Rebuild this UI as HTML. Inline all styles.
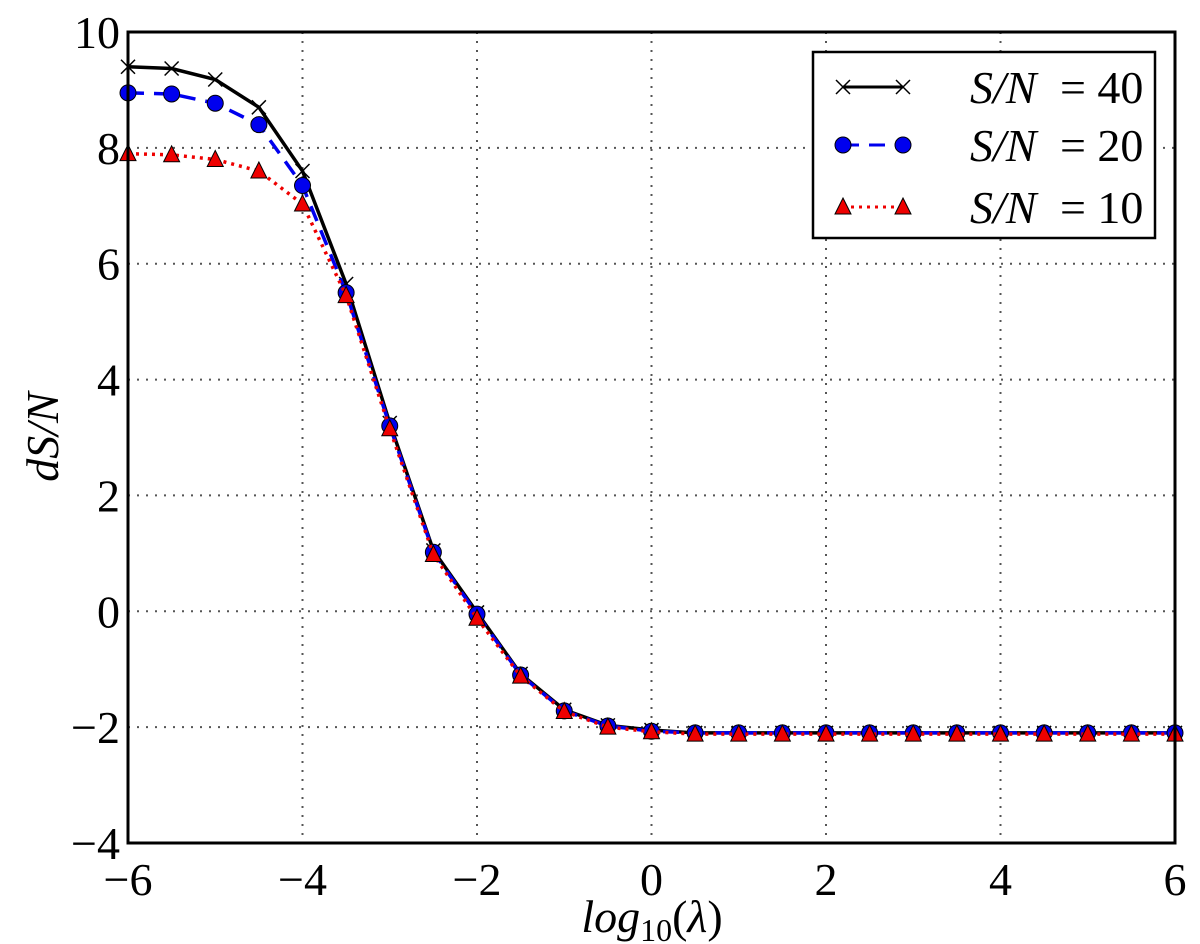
<!DOCTYPE html>
<html><head><meta charset="utf-8">
<style>
body{margin:0;background:#fff;}
svg{display:block;}
text{font-family:"Liberation Serif",serif;fill:#000;}
</style></head>
<body>
<svg id="chart" width="1200" height="944">
</svg>
<script>
const xValues=[-6,-5.5,-5,-4.5,-4,-3.5,-3,-2.5,-2,-1.5,-1,-0.5,0,0.5,1,1.5,2,2.5,3,3.5,4,4.5,5,5.5,6];
const sn40=[9.4,9.37,9.18,8.7,7.6,5.65,3.25,1.05,-0.02,-1.08,-1.7,-1.97,-2.05,-2.1,-2.1,-2.1,-2.1,-2.1,-2.1,-2.1,-2.1,-2.1,-2.1,-2.1,-2.1];
const sn20=[8.95,8.93,8.77,8.4,7.35,5.5,3.2,1.02,-0.05,-1.1,-1.72,-1.98,-2.07,-2.1,-2.1,-2.1,-2.1,-2.1,-2.1,-2.1,-2.1,-2.1,-2.1,-2.1,-2.1];
const sn10=[7.9,7.88,7.8,7.6,7.03,5.45,3.15,0.98,-0.12,-1.12,-1.73,-2.0,-2.08,-2.12,-2.12,-2.12,-2.12,-2.12,-2.12,-2.12,-2.12,-2.12,-2.12,-2.12,-2.12];
const xTicks=[-6,-4,-2,0,2,4,6];
const yTicks=[-4,-2,0,2,4,6,8,10];
const legendLabels=["40","20","10"];

const L=128,R=1175,T=32,B=843;
const sx=v=>L+(v+6)/12*(R-L);
const sy=v=>B-(v+4)/14*(B-T);
const NS="http://www.w3.org/2000/svg";
const svg=document.getElementById('chart');
function mk(tag,attrs,parent){const e=document.createElementNS(NS,tag);for(const k in attrs)e.setAttribute(k,attrs[k]);(parent||svg).appendChild(e);return e;}

const grid=mk('g',{});


xTicks.forEach(t=>{if(t>-6&&t<6)mk('line',{x1:sx(t),x2:sx(t),y1:T,y2:B,stroke:'#555','stroke-width':2,'stroke-dasharray':'2,7'},grid);});
yTicks.forEach(t=>{if(t>-4&&t<10)mk('line',{x1:L,x2:R,y1:sy(t),y2:sy(t),stroke:'#555','stroke-width':2,'stroke-dasharray':'2,7'},grid);});

xTicks.forEach(t=>{
  const lb=mk('text',{x:sx(t),y:B+52,'font-size':46,'text-anchor':'middle'});
  lb.textContent=(t<0?'\u2212':'')+Math.abs(t);
  
  
});
yTicks.forEach(t=>{
  const lb=mk('text',{x:L-8,y:sy(t)+16,'font-size':46,'text-anchor':'end'});
  lb.textContent=(t<0?'\u2212':'')+Math.abs(t);
  
  
});

function drawSeries(vals,color,dash,marker,name){
  const g=mk('g',{});
  
  
  const pts=xValues.map((x,i)=>sx(x)+','+sy(vals[i])).join(' ');
  const a={points:pts,fill:'none',stroke:color,'stroke-width':3.5};
  if(dash)a['stroke-dasharray']=dash;
  mk('polyline',a,g);
  xValues.forEach((x,i)=>drawMarker(g,sx(x),sy(vals[i]),marker));
}
function drawMarker(g,x,y,m){
  if(m==='x'){mk('path',{d:`M${x-7},${y-7}L${x+7},${y+7}M${x-7},${y+7}L${x+7},${y-7}`,stroke:'#000','stroke-width':1.5},g);}
  else if(m==='o'){mk('circle',{cx:x,cy:y,r:8,fill:'#0000ee',stroke:'#000','stroke-width':1},g);}
  else {mk('path',{d:`M${x},${y-9}L${x+8},${y+7}L${x-8},${y+7}Z`,fill:'#ee0000',stroke:'#000','stroke-width':1},g);}
}
drawSeries(sn40,'#000',null,'x','series-sn40');
drawSeries(sn20,'#0000ee','16,10','o','series-sn20');
drawSeries(sn10,'#ee0000','3,5','^','series-sn10');

const fr=mk('rect',{x:L,y:T,width:R-L,height:B-T,fill:'none',stroke:'#000','stroke-width':3});



const lg=mk('g',{});


mk('rect',{x:813,y:52,width:342,height:186,fill:'#fff',stroke:'#000','stroke-width':2.5},lg);
const rows=[87,145,207];
const styles=[['#000',null,'x'],['#0000ee','16,10','o'],['#ee0000','3,5','^']];
rows.forEach((y,i)=>{
  const e=mk('g',{},lg);
  
  
  const a={x1:843,x2:903,y1:y,y2:y,stroke:styles[i][0],'stroke-width':3};
  if(styles[i][1])a['stroke-dasharray']=styles[i][1];
  mk('line',a,e);
  drawMarker(e,843,y,styles[i][2]);drawMarker(e,903,y,styles[i][2]);
  const t=mk('text',{x:970,y:y+16,'font-size':46},e);
  t.innerHTML='<tspan font-style="italic">S/N</tspan> <tspan dx="12">=</tspan> '+legendLabels[i];
});

const xt=mk('text',{x:652,y:932,'font-size':46,'text-anchor':'middle','font-style':'italic'});
xt.innerHTML='log<tspan font-size="32" dy="9" font-style="normal">10</tspan><tspan dy="-9" font-style="normal">(</tspan>λ<tspan font-style="normal">)</tspan>';


const yt=mk('text',{x:58,y:437,'font-size':46,'text-anchor':'middle','font-style':'italic',transform:'rotate(-90 58 437)'});
yt.textContent='dS/N';


</script>
</body></html>
